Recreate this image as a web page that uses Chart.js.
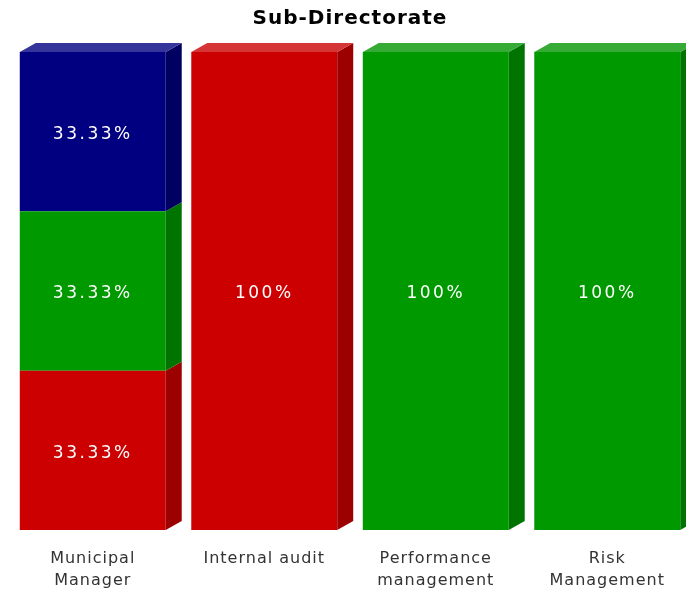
<!DOCTYPE html>
<html>
<head>
<meta charset="utf-8">
<script src="https://cdn.jsdelivr.net/npm/chart.js@4"></script>
<style>
  html, body { margin: 0; padding: 0; background: #fff; overflow: hidden; }
  #wrap { width: 700px; height: 591px; }
</style>
</head>
<body>
<div id="wrap"><canvas id="subChart" width="700" height="591"></canvas></div>
<script>
// Chart data
const categories = [['Municipal', 'Manager'], 'Internal audit', ['Performance', 'management'], ['Risk', 'Management']];
const redValues = [33.33, 100, 0, 0];
const greenValues = [33.33, 0, 100, 100];
const blueValues = [33.33, 0, 0, 0];

// front / top / side shades for the fake 3D look
const shades = {
    red: { front: '#cc0000', top: '#d53535', side: '#9c0000' },
    green: { front: '#009900', top: '#35aa35', side: '#007400' },
    blue: { front: '#000080', top: '#34349a', side: '#000062' }
};

const DEPTH_X = 16;
const DEPTH_Y = 9;

const spacingPlugin = {
    id: 'spacing',
    beforeDraw(chart) { chart.ctx.letterSpacing = '1px'; },
    afterDraw(chart) { chart.ctx.letterSpacing = '0px'; }
};

const bar3dPlugin = {
    id: 'bar3d',
    afterDatasetsDraw(chart) {
        const ctx = chart.ctx;
        const datasets = chart.data.datasets;
        const nCats = chart.data.labels.length;

        // topmost non-empty segment per category gets the top face
        const topIndex = [];
        for (let i = 0; i < nCats; i++) {
            topIndex[i] = -1;
            datasets.forEach((ds, d) => { if (ds.data[i] > 0) topIndex[i] = d; });
        }

        ctx.save();
        datasets.forEach((ds, d) => {
            const meta = chart.getDatasetMeta(d);
            meta.data.forEach((bar, i) => {
                if (!(ds.data[i] > 0)) return;
                const p = bar.getProps(['x', 'y', 'base', 'width'], true);
                const left = p.x - p.width / 2;
                const right = p.x + p.width / 2;
                const top = Math.min(p.y, p.base);
                const bottom = Math.max(p.y, p.base);

                ctx.fillStyle = ds.sideColor;
                ctx.beginPath();
                ctx.moveTo(right, top);
                ctx.lineTo(right + DEPTH_X, top - DEPTH_Y);
                ctx.lineTo(right + DEPTH_X, bottom - DEPTH_Y);
                ctx.lineTo(right, bottom);
                ctx.closePath();
                ctx.fill();

                if (topIndex[i] === d) {
                    ctx.fillStyle = ds.topColor;
                    ctx.beginPath();
                    ctx.moveTo(left, top);
                    ctx.lineTo(left + DEPTH_X, top - DEPTH_Y);
                    ctx.lineTo(right + DEPTH_X, top - DEPTH_Y);
                    ctx.lineTo(right, top);
                    ctx.closePath();
                    ctx.fill();
                }

                // value label on the front face
                ctx.letterSpacing = '2.5px';
                ctx.fillStyle = '#ffffff';
                ctx.font = '17px "DejaVu Sans", Verdana, sans-serif';
                ctx.textAlign = 'center';
                ctx.textBaseline = 'middle';
                const txt = (ds.data[i] === 100 ? '100' : ds.data[i].toFixed(2)) + '%';
                ctx.fillText(txt, p.x, (top + bottom) / 2 + 3);
            });
        });
        ctx.restore();
    }
};

function makeDataset(label, values, shade) {
    return {
        label: label,
        data: values,
        backgroundColor: shade.front,
        topColor: shade.top,
        sideColor: shade.side,
        borderWidth: 0,
        categoryPercentage: 1,
        barPercentage: 0.851
    };
}

document.addEventListener('DOMContentLoaded', function () {
    const ctx = document.getElementById('subChart').getContext('2d');
    new Chart(ctx, {
        type: 'bar',
        data: {
            labels: categories,
            datasets: [
                makeDataset('Red', redValues, shades.red),
                makeDataset('Green', greenValues, shades.green),
                makeDataset('Blue', blueValues, shades.blue)
            ]
        },
        options: {
            responsive: false,
            animation: false,
            layout: { padding: { left: 7, right: 7, top: 0, bottom: -19 } },
            plugins: {
                legend: { display: false },
                tooltip: { enabled: false },
                title: {
                    display: true,
                    text: 'Sub-Directorate',
                    color: '#000',
                    font: { family: '"DejaVu Sans", Verdana, sans-serif', size: 20, weight: 'bold', lineHeight: 1.2 },
                    padding: { top: 7, bottom: 21 }
                }
            },
            scales: {
                x: {
                    stacked: true,
                    grid: { display: false, drawTicks: false },
                    border: { display: false },
                    ticks: {
                        color: '#333',
                        padding: 18,
                        maxRotation: 0,
                        autoSkip: false,
                        font: { family: '"DejaVu Sans", Verdana, sans-serif', size: 16, lineHeight: '22px' }
                    }
                },
                y: {
                    stacked: true,
                    display: false,
                    min: 0,
                    max: 100
                }
            }
        },
        plugins: [spacingPlugin, bar3dPlugin]
    });
});
</script>
</body>
</html>
